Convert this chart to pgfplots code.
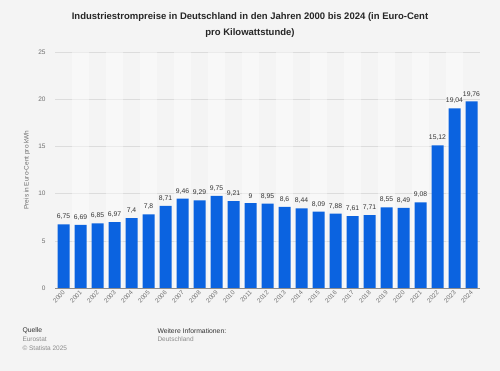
\documentclass[border=0pt]{standalone}
\usepackage{fontspec}
\setmainfont{Liberation Sans}
\usepackage{pgfplots}
\usepackage{pgfplotstable}
\pgfplotsset{compat=1.18}
\definecolor{bg}{HTML}{F4F4F4}
\definecolor{barblue}{RGB}{11,99,224}
\definecolor{gridc}{HTML}{DCDCDC}
\definecolor{ticktxt}{HTML}{6E6E6E}
\definecolor{valtxt}{HTML}{333333}
\pgfplotstableread{
x y
2000 6.75
2001 6.69
2002 6.85
2003 6.97
2004 7.4
2005 7.8
2006 8.71
2007 9.46
2008 9.29
2009 9.75
2010 9.21
2011 9
2012 8.95
2013 8.6
2014 8.44
2015 8.09
2016 7.88
2017 7.61
2018 7.71
2019 8.55
2020 8.49
2021 9.08
2022 15.12
2023 19.04
2024 19.76
}\data
\pgfplotstableread{
x y
2001 25
2003 25
2005 25
2007 25
2009 25
2011 25
2013 25
2015 25
2017 25
2019 25
2021 25
2023 25
}\bands
\begin{document}
\begin{tikzpicture}
\fill[bg] (0bp,0bp) rectangle (500bp,371bp);
\useasboundingbox (0bp,0bp) rectangle (500bp,371bp);
\node[font=\fontsize{9.5bp}{11bp}\selectfont\bfseries, text=black!85] at (250bp,354bp) {Industriestrompreise in Deutschland in den Jahren 2000 bis 2024 (in Euro-Cent};
\node[font=\fontsize{9.5bp}{11bp}\selectfont\bfseries, text=black!85] at (250bp,338bp) {pro Kilowattstunde)};
\begin{axis}[
  at={(55bp,83bp)}, anchor=south west,
  scale only axis, width=425bp, height=236bp,
  xmin=1999.5, xmax=2024.5, ymin=0, ymax=25,
  xtick={2000,...,2024}, ytick={0,5,...,25},
  /pgf/number format/assume math mode=true,
  /pgf/number format/1000 sep={},
  axis x line*=bottom, axis y line*=left,
  y axis line style={draw=none},
  x axis line style={draw=black!45, line width=0.6bp},
  major tick length=0pt,
  ymajorgrids, grid style={draw=gridc, line width=0.5bp},
  yticklabel style={font=\fontsize{6.5bp}{7bp}\selectfont, text=ticktxt, xshift=-6bp},
  xticklabel style={font=\fontsize{6.2bp}{7bp}\selectfont, text=ticktxt, rotate=45, anchor=east, xshift=1bp, yshift=-3bp},
  clip=false,
]
\addplot[ybar, bar width=17bp, bar shift=0pt, fill=white, fill opacity=0.45, draw=none, forget plot] table[x=x,y=y] {\bands};
\addplot[ybar, bar width=12bp, bar shift=0pt, fill=barblue, draw=none,
  nodes near coords={\pgfmathprintnumber[fixed, precision=2, use comma]{\pgfplotspointmeta}},
  nodes near coords style={font=\fontsize{6.8bp}{7bp}\selectfont, text=valtxt, yshift=1bp}]
  table[x=x,y=y] {\data};
\end{axis}
\node[rotate=90, font=\fontsize{6.5bp}{7bp}\selectfont, text=ticktxt] at (27bp,201bp) {Preis in Euro-Cent pro kWh};
\node[anchor=west, font=\fontsize{6.8bp}{7bp}\selectfont, text=black!80] at (19bp,40bp) {Quelle};
\node[anchor=west, font=\fontsize{6.5bp}{7bp}\selectfont, text=ticktxt!80] at (19bp,31.5bp) {Eurostat};
\node[anchor=west, font=\fontsize{6.5bp}{7bp}\selectfont, text=ticktxt!80] at (19bp,23bp) {© Statista 2025};
\node[anchor=west, font=\fontsize{6.8bp}{7bp}\selectfont, text=black!80] at (154bp,40bp) {Weitere Informationen:};
\node[anchor=west, font=\fontsize{6.5bp}{7bp}\selectfont, text=ticktxt!80] at (154bp,31.5bp) {Deutschland};
\end{tikzpicture}
\end{document}
